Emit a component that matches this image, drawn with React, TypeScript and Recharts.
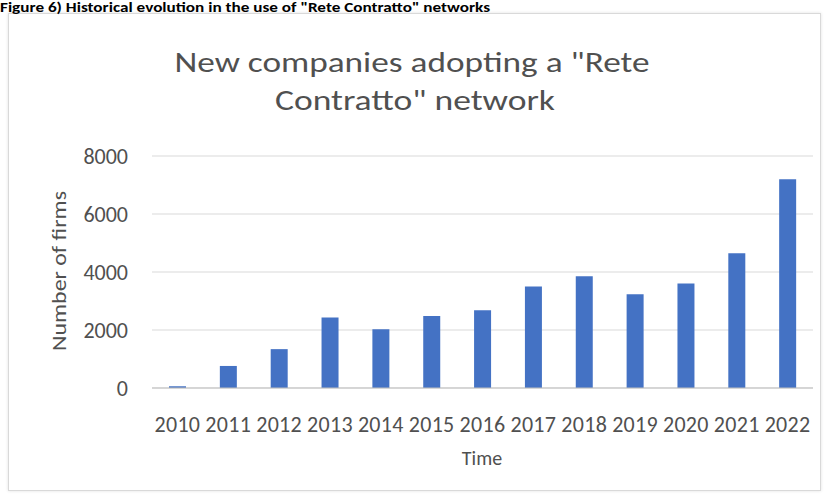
import React from 'react';
import { BarChart, Bar, XAxis, YAxis, CartesianGrid } from 'recharts';

const years = ['2010', '2011', '2012', '2013', '2014', '2015', '2016', '2017', '2018', '2019', '2020', '2021', '2022'];
const firms = [60, 760, 1340, 2430, 2030, 2480, 2680, 3500, 3850, 3230, 3600, 4650, 7200];
const yTicks = [0, 2000, 4000, 6000, 8000];

const data = years.map((year, i) => ({ year, firms: firms[i] }));

const textColor = '#505050';
const font = 'Calibri, Carlito, Lato, "Open Sans", sans-serif';

export default function App() {
  return (
    <div style={{ position: 'absolute', left: 0, top: 0, width: 829, height: 500, background: '#fff', overflow: 'hidden' }}>
      {/* outer frame of the chart */}
      <div
        style={{
          position: 'absolute',
          left: 8,
          top: 13,
          width: 811,
          height: 476,
          border: '1px solid #d9d9d9',
          boxShadow: '0 0 3px rgba(0,0,0,0.12)',
        }}
      />
      <BarChart
        width={829}
        height={500}
        data={data}
        margin={{ top: 156, right: 16, bottom: 32, left: 52 }}
        style={{ position: 'absolute', left: 0, top: 0 }}
      >
        <CartesianGrid vertical={false} stroke="#d9d9d9" />
        <XAxis
          dataKey="year"
          height={80}
          axisLine={{ stroke: '#bfbfbf' }}
          tickLine={false}
          tickMargin={22}
          interval={0}
          tick={{ fill: textColor, fontSize: 22, fontFamily: font, letterSpacing: 0.3 }}
        />
        <YAxis
          width={100}
          domain={[0, 8000]}
          ticks={yTicks}
          axisLine={false}
          tickLine={false}
          tickMargin={18}
          tick={{ fill: textColor, fontSize: 22, fontFamily: font }}
        />
        <Bar dataKey="firms" fill="#4472C4" barSize={17} isAnimationActive={false} />
      </BarChart>
      <svg width={829} height={500} style={{ position: 'absolute', left: 0, top: 0, pointerEvents: 'none' }}>
        <text x={0} y={12} fontFamily={font} fontWeight="bold" fontSize={13} fill="#000" textLength={490} lengthAdjust="spacingAndGlyphs">
          Figure 6) Historical evolution in the use of "Rete Contratto" networks
        </text>
        <text x={412} y={72} textAnchor="middle" fontFamily={font} fontSize={28} fill={textColor} textLength={475} lengthAdjust="spacingAndGlyphs">
          New companies adopting a "Rete
        </text>
        <text x={415} y={110} textAnchor="middle" fontFamily={font} fontSize={28} fill={textColor} textLength={280} lengthAdjust="spacingAndGlyphs">
          Contratto" network
        </text>
        <text x={482} y={465} textAnchor="middle" fontFamily={font} fontSize={20} fill={textColor}>
          Time
        </text>
        <text
          x={66}
          y={271}
          textAnchor="middle"
          fontFamily={font}
          fontSize={21}
          fill={textColor}
          textLength={160}
          lengthAdjust="spacingAndGlyphs"
          transform="rotate(-90 66 271)"
        >
          Number of firms
        </text>
      </svg>
    </div>
  );
}
